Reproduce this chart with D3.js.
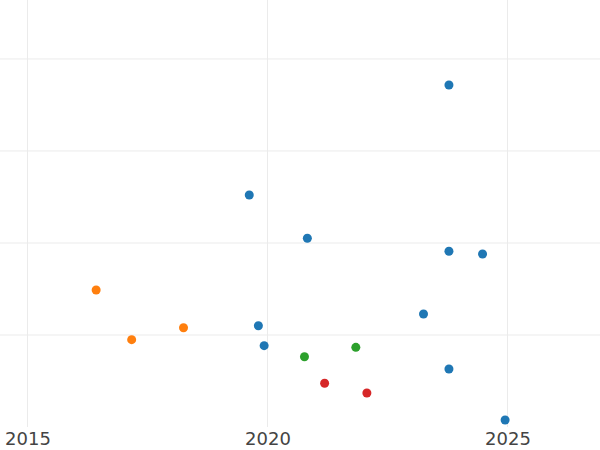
<!DOCTYPE html>
<html>
<head>
<meta charset="utf-8">
<script src="https://cdn.jsdelivr.net/npm/d3@7"></script>
<style>
  body { margin: 0; background: #fff; }
  .axis text { font-family: "DejaVu Sans", sans-serif; font-size: 18px; fill: #444; }
</style>
</head>
<body>
<div id="chart"></div>
<script>
// four groups of points, x = year, y = value
var seriesNames = ['a', 'b', 'c', 'd'];
var seriesColors = ['#1f77b4', '#ff7f0e', '#2ca02c', '#d62728'];

var blueYears  = [2023.78, 2019.62, 2020.83, 2023.78, 2024.48, 2023.25, 2019.81, 2019.93, 2023.78, 2024.95];
var blueValues = [37.17, 25.22, 20.51, 19.10, 18.80, 12.28, 11.01, 8.84, 6.30, 0.76];

var orangeYears  = [2016.43, 2017.17, 2018.25];
var orangeValues = [14.89, 9.49, 10.79];

var greenYears  = [2020.77, 2021.84];
var greenValues = [7.64, 8.66];

var redYears  = [2021.19, 2022.07];
var redValues = [4.75, 3.70];

var xTicks = [2015, 2020, 2025];
var yTicks = [10, 20, 30, 40];

var width = 600, height = 450;
var plotBottom = 427;

var series = [
  { years: blueYears, values: blueValues },
  { years: orangeYears, values: orangeValues },
  { years: greenYears, values: greenValues },
  { years: redYears, values: redValues }
];

var points = [];
series.forEach(function(s, i) {
  s.years.forEach(function(yr, j) {
    points.push({ x: yr, y: s.values[j], group: i });
  });
});

var x = d3.scaleLinear()
  .domain([2014.427, 2026.927])
  .range([0, width]);

var y = d3.scaleLinear()
  .domain([0, 46.41])
  .range([plotBottom, 0]);

var svg = d3.select('#chart').append('svg')
  .attr('width', width)
  .attr('height', height);

// grid
svg.append('g')
  .selectAll('line.h')
  .data(yTicks)
  .enter().append('line')
  .attr('x1', 0).attr('x2', width)
  .attr('y1', function(d) { return y(d); })
  .attr('y2', function(d) { return y(d); })
  .attr('stroke', '#ebebeb')
  .attr('stroke-width', 1);

svg.append('g')
  .selectAll('line.v')
  .data(xTicks)
  .enter().append('line')
  .attr('x1', function(d) { return x(d); })
  .attr('x2', function(d) { return x(d); })
  .attr('y1', 0).attr('y2', plotBottom)
  .attr('stroke', '#ebebeb')
  .attr('stroke-width', 1);

// x axis labels only
var xAxis = d3.axisBottom(x)
  .tickValues(xTicks)
  .tickFormat(d3.format('d'))
  .tickSize(0)
  .tickPadding(5);

var gx = svg.append('g')
  .attr('class', 'axis')
  .attr('transform', 'translate(0,' + plotBottom + ')')
  .call(xAxis);
gx.select('.domain').remove();
gx.selectAll('text').attr('font-family', null).attr('font-size', null);

// points
svg.append('g')
  .selectAll('circle')
  .data(points)
  .enter().append('circle')
  .attr('cx', function(d) { return x(d.x); })
  .attr('cy', function(d) { return y(d.y); })
  .attr('r', 4.5)
  .attr('fill', function(d) { return seriesColors[d.group]; });
</script>
</body>
</html>
